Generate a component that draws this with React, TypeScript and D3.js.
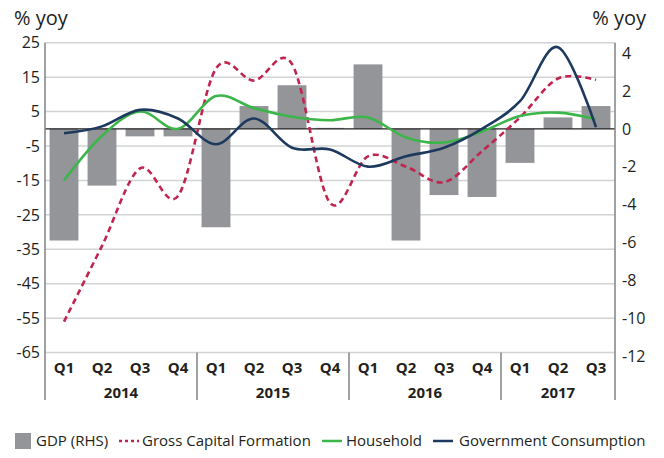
import React, { useEffect, useRef } from "react";
import * as d3 from "d3";

// quarters and years
const quarters = ["Q1", "Q2", "Q3", "Q4", "Q1", "Q2", "Q3", "Q4", "Q1", "Q2", "Q3", "Q4", "Q1", "Q2", "Q3"];
const years = ["2014", "2015", "2016", "2017"];
const yearSpans = [4, 4, 4, 3];

// GDP (RHS), % yoy
const gdp = [-5.9, -3.0, -0.4, -0.4, -5.2, 1.2, 2.3, 0.05, 3.4, -5.9, -3.5, -3.6, -1.8, 0.6, 1.2];
// left axis series, % yoy
const grossCapital = [-56, -34, -11.5, -19.5, 17.5, 14, 18.8, -21.5, -8, -11, -15.5, -6.5, 3.3, 14.6, 14.2];
const household = [-15, -2, 5, 0, 9.5, 6, 3.5, 2.5, 3.3, -2.5, -4, -0.8, 3.7, 4.7, 2.8];
const government = [-1.3, 0.7, 5.5, 3, -4.5, 3, -5.5, -6, -11, -8, -5.5, 0, 8, 23.7, 0.5];

const leftTicks = [25, 15, 5, -5, -15, -25, -35, -45, -55, -65];
const rightTicks = [4, 2, 0, -2, -4, -6, -8, -10, -12];

const W = 664;
const H = 458;
const plot = { left: 45, right: 615, top: 42.7, bottom: 352.6 };
const FONT = "'Open Sans', sans-serif";
const INK = "#231f20";

const COLORS = {
    gdp: "#939598",
    gcf: "#c0244f",
    hh: "#3cb54a",
    gov: "#1d3a5e",
};

const App = () => {
    const ref = useRef<SVGSVGElement>(null);

    useEffect(() => {
        const svg = d3.select(ref.current);
        svg.selectAll("*").remove();

        const idx = quarters.map((_, i) => i);
        const x = d3.scaleBand<number>().domain(idx).range([plot.left, plot.right]).paddingInner(0.24).paddingOuter(0.12);
        const step = x.step();
        const cx = (i: number) => plot.left + step * (i + 0.5);

        // right axis is the left one divided by 5.5
        const yL = d3.scaleLinear().domain([-65, 25]).range([plot.bottom, plot.top]);
        const yR = d3.scaleLinear().domain([-65 / 5.5, 25 / 5.5]).range([plot.bottom, plot.top]);

        // gridlines
        svg.append("g")
            .selectAll("line")
            .data(leftTicks)
            .join("line")
            .attr("x1", plot.left)
            .attr("x2", plot.right)
            .attr("y1", (d) => yL(d))
            .attr("y2", (d) => yL(d))
            .attr("stroke", "#d2d3d5")
            .attr("stroke-width", 1.5);

        // bars (RHS)
        svg.append("g")
            .selectAll("rect")
            .data(gdp)
            .join("rect")
            .attr("x", (_, i) => x(i)!)
            .attr("width", x.bandwidth())
            .attr("y", (d) => Math.min(yR(d), yR(0)))
            .attr("height", (d) => Math.abs(yR(d) - yR(0)))
            .attr("fill", COLORS.gdp);

        // zero line
        svg.append("line")
            .attr("x1", plot.left)
            .attr("x2", plot.right)
            .attr("y1", yL(0))
            .attr("y2", yL(0))
            .attr("stroke", INK)
            .attr("stroke-width", 1.3);

        const line = (scale: d3.ScaleLinear<number, number>) =>
            d3
                .line<number>()
                .x((_, i) => cx(i))
                .y((d) => scale(d))
                .curve(d3.curveCardinal.tension(0));

        svg.append("path")
            .attr("d", line(yL)(grossCapital))
            .attr("fill", "none")
            .attr("stroke", COLORS.gcf)
            .attr("stroke-width", 2.6)
            .attr("stroke-dasharray", "6 4");
        svg.append("path")
            .attr("d", line(yL)(household))
            .attr("fill", "none")
            .attr("stroke", COLORS.hh)
            .attr("stroke-width", 2.6);
        svg.append("path")
            .attr("d", line(yL)(government))
            .attr("fill", "none")
            .attr("stroke", COLORS.gov)
            .attr("stroke-width", 2.6);

        // axis lines + year separators
        const sepBottom = 400;
        svg.append("line")
            .attr("x1", plot.left).attr("x2", plot.left)
            .attr("y1", plot.top).attr("y2", sepBottom)
            .attr("stroke", "#808285").attr("stroke-width", 1.5);
        svg.append("line")
            .attr("x1", plot.right).attr("x2", plot.right)
            .attr("y1", plot.top).attr("y2", sepBottom)
            .attr("stroke", "#808285").attr("stroke-width", 1.5);
        let acc = 0;
        const yearCenters: number[] = [];
        yearSpans.forEach((n, k) => {
            yearCenters.push(plot.left + step * (acc + n / 2));
            acc += n;
            if (k < yearSpans.length - 1) {
                const sx = plot.left + step * acc;
                svg.append("line")
                    .attr("x1", sx).attr("x2", sx)
                    .attr("y1", plot.bottom).attr("y2", sepBottom)
                    .attr("stroke", "#808285").attr("stroke-width", 1.5);
            }
        });

        // tick labels
        svg.append("g")
            .selectAll("text")
            .data(leftTicks)
            .join("text")
            .attr("x", 40)
            .attr("y", (d) => yL(d))
            .attr("dy", "0.36em")
            .attr("text-anchor", "end")
            .attr("font-family", FONT)
            .attr("font-size", 16)
            .attr("fill", INK)
            .text((d) => d);
        svg.append("g")
            .selectAll("text")
            .data(rightTicks)
            .join("text")
            .attr("x", 622)
            .attr("y", (d) => yR(d))
            .attr("dy", "0.36em")
            .attr("font-family", FONT)
            .attr("font-size", 16)
            .attr("fill", INK)
            .text((d) => d);

        svg.append("g")
            .selectAll("text")
            .data(quarters)
            .join("text")
            .attr("x", (_, i) => cx(i))
            .attr("y", 373)
            .attr("text-anchor", "middle")
            .attr("font-family", FONT)
            .attr("font-size", 15)
            .attr("font-weight", "bold")
            .attr("fill", INK)
            .text((d) => d);
        svg.append("g")
            .selectAll("text")
            .data(years)
            .join("text")
            .attr("x", (_, i) => yearCenters[i])
            .attr("y", 398)
            .attr("text-anchor", "middle")
            .attr("font-family", FONT)
            .attr("font-size", 15)
            .attr("font-weight", "bold")
            .attr("fill", INK)
            .text((d) => d);

        // axis titles
        svg.append("text").attr("x", 14).attr("y", 25)
            .attr("font-family", FONT).attr("font-size", 20).attr("fill", INK).text("% yoy");
        svg.append("text").attr("x", 646).attr("y", 25).attr("text-anchor", "end")
            .attr("font-family", FONT).attr("font-size", 20).attr("fill", INK).text("% yoy");

        // legend
        const ly = 441;
        const lg = svg.append("g").attr("font-family", FONT).attr("font-size", 15).attr("fill", INK);
        lg.append("rect").attr("x", 15).attr("y", ly - 8).attr("width", 16).attr("height", 16).attr("fill", COLORS.gdp);
        lg.append("text").attr("x", 36).attr("y", ly).attr("dy", "0.35em").text("GDP (RHS)");
        lg.append("line").attr("x1", 119).attr("x2", 139).attr("y1", ly).attr("y2", ly)
            .attr("stroke", COLORS.gcf).attr("stroke-width", 2.5).attr("stroke-dasharray", "3 3");
        lg.append("text").attr("x", 142).attr("y", ly).attr("dy", "0.35em").text("Gross Capital Formation");
        lg.append("line").attr("x1", 322).attr("x2", 342).attr("y1", ly).attr("y2", ly)
            .attr("stroke", COLORS.hh).attr("stroke-width", 2.5);
        lg.append("text").attr("x", 346).attr("y", ly).attr("dy", "0.35em").text("Household");
        lg.append("line").attr("x1", 433).attr("x2", 453).attr("y1", ly).attr("y2", ly)
            .attr("stroke", COLORS.gov).attr("stroke-width", 2.5);
        lg.append("text").attr("x", 459).attr("y", ly).attr("dy", "0.35em").text("Government Consumption");
    }, []);

    return (
        <svg
            ref={ref}
            width={W}
            height={H}
            style={{ position: "absolute", left: 0, top: 0, background: "#fff" }}
        />
    );
};

export default App;
